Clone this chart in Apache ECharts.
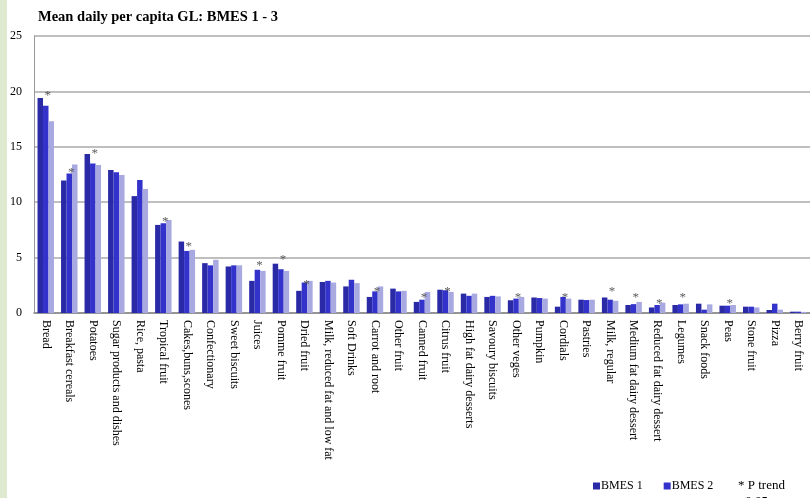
<!DOCTYPE html>
<html>
<head>
<meta charset="utf-8">
<script src="https://cdn.jsdelivr.net/npm/echarts@6/dist/echarts.min.js"></script>
<style>html,body{margin:0;padding:0;background:#fff;}#c{width:810px;height:498px;}</style>
</head>
<body>
<div id="c"></div>
<script>
var categories = ["Bread","Breakfast cereals","Potatoes","Sugar products and dishes","Rice, pasta","Tropical fruit","Cakes,buns,scones","Confectionary","Sweet biscuits","Juices","Pomme fruit","Dried fruit","Milk, reduced fat and low fat","Soft Drinks","Carrot and root","Other fruit","Canned fruit","Citrus fruit","High fat dairy desserts","Savoury biscuits","Other veges","Pumpkin","Cordials","Pastries","Milk, regular","Medium fat dairy dessert","Reduced fat dairy dessert","Legumes","Snack foods","Peas","Stone fruit","Pizza","Berry fruit"];
var bmes1 = [19.4,11.95,14.35,12.9,10.55,7.95,6.45,4.5,4.2,2.9,4.45,2.0,2.8,2.4,1.45,2.2,1.0,2.1,1.75,1.45,1.15,1.4,0.57,1.2,1.4,0.72,0.5,0.72,0.84,0.66,0.57,0.27,0.12];
var bmes2 = [18.7,12.6,13.5,12.7,12.0,8.1,5.6,4.3,4.3,3.9,3.95,2.75,2.9,3.0,1.95,1.95,1.2,2.05,1.55,1.55,1.3,1.35,1.45,1.17,1.2,0.8,0.72,0.78,0.3,0.66,0.57,0.84,0.12];
var bmes3 = [17.3,13.4,13.35,12.45,11.2,8.4,5.7,4.8,4.3,3.8,3.8,2.9,2.75,2.7,2.4,2.0,1.9,1.9,1.75,1.5,1.45,1.3,1.3,1.2,1.1,1.0,0.93,0.84,0.78,0.72,0.5,0.3,0.1];
// height at which the "* P trend" marker is drawn ('-' = no marker)
var trendStar = [19.85,12.9,14.7,'-','-',8.5,6.25,'-','-',4.55,5.07,2.85,'-','-',2.2,'-',1.65,2.2,'-','-',1.7,'-',1.65,'-',2.2,1.65,1.1,1.65,'-',1.1,'-','-','-'];
var yTicks = {min:0, max:25, interval:5};

var serif = 'Liberation Serif';
var chart = echarts.init(document.getElementById('c'));
chart.setOption({
  animation: false,
  backgroundColor: '#ffffff',
  textStyle: {fontFamily: serif},
  title: {
    text: 'Mean daily per capita GL: BMES 1 - 3',
    left: 33, top: 5,
    textStyle: {fontFamily: serif, fontWeight: 'bold', fontSize: 14.5, color: '#000'}
  },
  legend: {
    data: ['BMES 1','BMES 2'],
    left: 588, top: 475,
    itemWidth: 7, itemHeight: 7, itemGap: 21,
    icon: 'rect',
    textStyle: {fontFamily: serif, fontSize: 12, color: '#000', padding: [0,0,0,-4]}
  },
  graphic: [
    {type: 'rect', left: 0, top: 0, shape: {width: 7, height: 498}, style: {fill: '#dfe9d0'}},
    {type: 'text', left: 738, top: 478, style: {text: '* P trend\n<0.05', font: '13px "Liberation Serif"', fill: '#000', lineHeight: 16}}
  ],
  grid: {left: 34, right: 0, top: 36, bottom: 185},
  xAxis: {
    type: 'category',
    data: categories,
    axisLine: {lineStyle: {color: '#888', width: 1.5}},
    axisTick: {show: false},
    axisLabel: {rotate: -90, interval: 0, margin: 7, fontFamily: serif, fontSize: 12, color: '#000'}
  },
  yAxis: {
    type: 'value',
    min: yTicks.min, max: yTicks.max, interval: yTicks.interval,
    axisLine: {show: true, lineStyle: {color: '#999'}},
    axisTick: {show: false},
    axisLabel: {margin: 12, fontFamily: serif, fontSize: 12, color: '#000'},
    splitLine: {lineStyle: {color: '#aaa', width: 1.5}}
  },
  series: [
    {name: 'BMES 1', type: 'bar', data: bmes1, barGap: '0%', barCategoryGap: '30%', itemStyle: {color: '#2a2aa6'}},
    {name: 'BMES 2', type: 'bar', data: bmes2, itemStyle: {color: '#3333cc'}},
    {name: 'BMES 3', type: 'bar', data: bmes3, itemStyle: {color: '#a9a9e2'}},
    {name: 'P trend', type: 'scatter', data: trendStar, symbolSize: 0, silent: true, z: 5,
      label: {show: true, formatter: '*', position: 'inside', offset: [2, 3], fontFamily: serif, fontSize: 13, color: '#333'}}
  ]
});
</script>
</body>
</html>
